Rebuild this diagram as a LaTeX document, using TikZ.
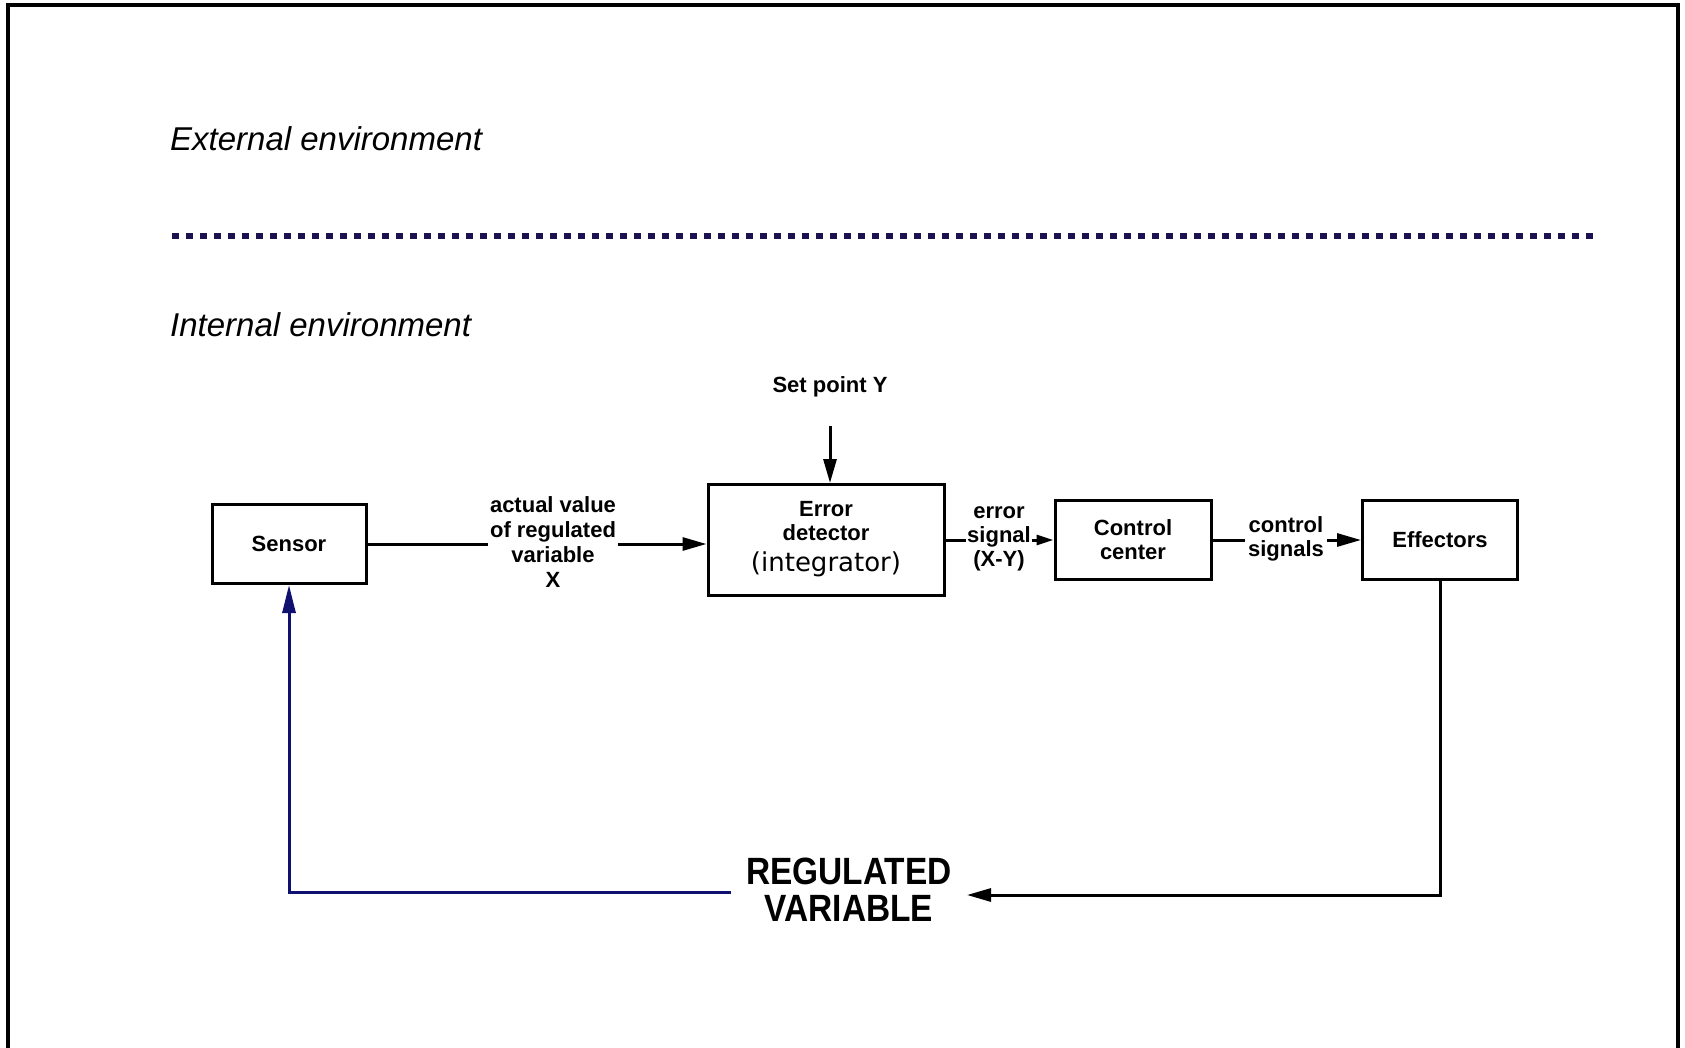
\documentclass[tikz,border=0pt]{standalone}
\usepackage{fontspec}
\setmainfont{Liberation Sans}
\newfontfamily\dejavu{DejaVu Sans}
\newfontfamily\narrowsans{Liberation Sans}[FakeStretch=0.88]
\usetikzlibrary{arrows.meta}

\definecolor{dotnavy}{RGB}{28,18,80}
\definecolor{fbnavy}{RGB}{16,16,112}

\begin{document}
\begin{tikzpicture}[x=1pt,y=-1pt,
  box/.style={draw, line width=3pt, align=center, inner sep=0pt,
    font=\fontsize{22}{24}\selectfont\bfseries},
  lbl/.style={align=center, inner sep=2pt,
    font=\fontsize{22}{24}\selectfont\bfseries},
  envtext/.style={anchor=base west, inner sep=0pt,
    font=\fontsize{33}{36}\selectfont\itshape},
  wire/.style={line width=3pt},
  arr/.style={wire, -{Triangle[length=24pt,width=13pt]}},
  smallarr/.style={wire, -{Triangle[length=17pt,width=10pt]}},
  fb/.style={line width=3pt, draw=fbnavy, -{Triangle[length=28pt,width=13pt]}},
  separator/.style={draw=dotnavy, line width=6.5pt, dash pattern=on 6.5pt off 7.5pt}
]
\useasboundingbox (0,0) rectangle (1685,1048);

% page frame, open at the bottom
\draw[line width=4pt] (8,1048) -- (8,5) -- (1678,5) -- (1678,1048);

% environments and the boundary between them
\node[envtext] (ext) at (170,151) {External environment};
\draw[separator] (172,236) -- (1599,236);
\node[envtext] (int) at (170,336) {Internal environment};

% blocks of the control loop
\node[box, minimum width=154pt, minimum height=79pt] (sensor) at (289,544) {Sensor};
\node[box, minimum width=236pt, minimum height=111pt] (err) at (826,540) {};
\node[align=center, inner sep=0pt, font=\fontsize{22}{24.5}\selectfont\bfseries]
  (errtext) at (826,539)
  {Error\\detector\\[6pt]{\fontsize{26}{28}\selectfont\dejavu\mdseries (integrator)}};
\node[box, minimum width=156pt, minimum height=79pt] (ctrl) at (1133,540)
  {Control\\center};
\node[box, minimum width=155pt, minimum height=79pt] (eff) at (1440,540) {Effectors};

% signal labels
\node[lbl, anchor=base] (sp) at (830,392) {Set point Y};
\node[lbl, font=\fontsize{22}{25}\selectfont\bfseries] (xval) at (553,542)
  {actual value\\of regulated\\variable\\X};
\node[lbl, inner sep=1pt] (esig) at (999,539) {error\\signal\\(X-Y)};
\node[lbl, inner sep=3pt] (csig) at (1286,539) {control\\signals};
\node[align=center, inner xsep=15pt, inner ysep=4pt,
  font=\fontsize{38}{37}\selectfont\narrowsans\bfseries] (rv) at (849,890)
  {REGULATED\\VARIABLE};

% connectors
\draw[arr, shorten <=27pt] (sp.south) -- (sp.south |- err.north);
\draw[wire] (sensor.east) -- (sensor.east -| xval.west);
\draw[arr] (xval.east |- sensor.east) -- (err.west |- sensor.east);
\draw[wire] (err.east) -- (err.east -| esig.west);
\draw[smallarr] (esig.east |- err.east) -- (ctrl.west);
\draw[wire] (ctrl.east) -- (ctrl.east -| csig.west);
\draw[arr] (csig.east |- ctrl.east) -- (eff.west);
\draw[arr] (eff.south) |- ([yshift=-5pt]rv.east);
\draw[fb] ([yshift=-2pt]rv.west) -| (sensor.south);
\end{tikzpicture}
\end{document}
